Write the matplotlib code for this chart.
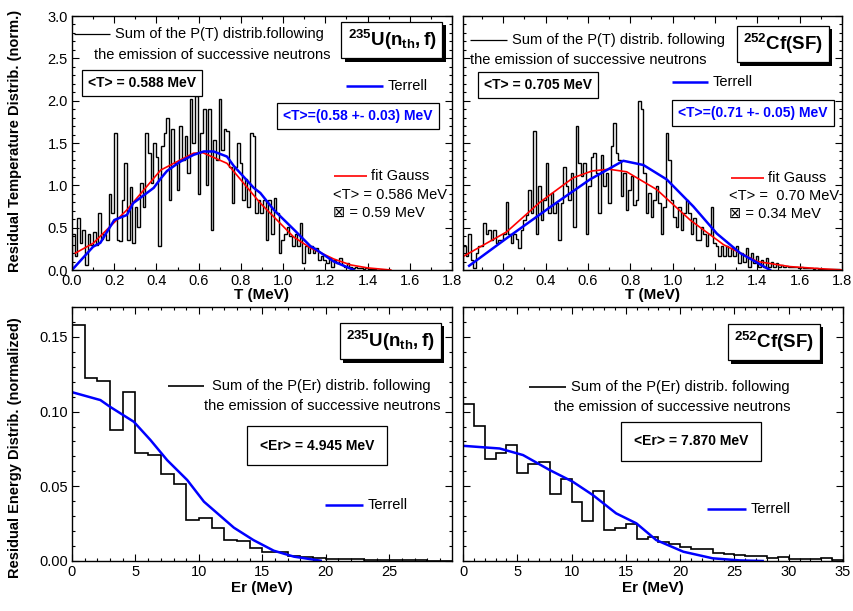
import numpy as np
import matplotlib
matplotlib.use('Agg')
import matplotlib.pyplot as plt
import matplotlib.patheffects as pe
from matplotlib.ticker import MultipleLocator, FormatStrFormatter

plt.rcParams['font.family'] = ['Liberation Sans', 'DejaVu Sans']
plt.rcParams['mathtext.fontset'] = 'custom'
plt.rcParams['mathtext.rm'] = 'Liberation Sans'
plt.rcParams['mathtext.bf'] = 'Liberation Sans:bold'
plt.rcParams['mathtext.it'] = 'Liberation Sans:italic'

###############################################################################
# Data
# U-235 residual temperature histogram (P(T) summed over successive neutrons)
u_T_start, u_T_width = 0.0, 0.0124
u_T_hist = [0.43, 0.16, 0.61, 0.32, 0.47, 0.06, 0.43, 0.30, 0.45, 0.30,
            0.67, 0.37, 0.43, 0.35, 0.90, 0.67, 1.62, 0.36, 0.34, 0.83,
            1.26, 0.35, 0.98, 0.32, 0.75, 0.51, 1.03, 0.75, 1.62, 1.38,
            1.03, 1.50, 1.34, 0.28, 1.46, 1.62, 1.80, 0.83, 1.66, 1.26,
            0.95, 1.70, 1.30, 1.58, 1.15, 2.02, 1.50, 2.05, 0.90, 1.62,
            1.90, 1.00, 1.90, 0.47, 1.54, 1.30, 2.02, 1.42, 1.66, 1.64,
            1.22, 0.79, 1.22, 1.50, 1.26, 0.83, 1.07, 0.75, 1.62, 1.58,
            0.67, 0.83, 0.67, 0.83, 0.36, 0.83, 0.43, 0.85, 0.67, 0.20,
            0.35, 0.43, 0.51, 0.40, 0.28, 0.43, 0.28, 0.55, 0.08, 0.28,
            0.20, 0.28, 0.20, 0.26, 0.12, 0.16, 0.12, 0.08, 0.14, 0.04,
            0.12, 0.08, 0.14, 0.06, 0.04, 0.08, 0.04, 0.02, 0.03, 0.02,
            0.02, 0.01, 0.02, 0.01, 0.01, 0.01, 0.005, 0.005, 0.005, 0.0, 0.0]
u_terrell_T = [0.0, 0.10, 0.134, 0.20, 0.26, 0.29, 0.387, 0.42, 0.45, 0.513,
               0.576, 0.624, 0.671, 0.734, 0.766, 0.861, 0.892, 0.956, 1.05,
               1.13, 1.145, 1.24, 1.335]
u_terrell_P = [0.0, 0.275, 0.32, 0.59, 0.65, 0.79, 0.97, 1.08, 1.17, 1.28,
               1.36, 1.40, 1.40, 1.34, 1.23, 0.97, 0.91, 0.71, 0.48,
               0.28, 0.26, 0.10, 0.0]
u_gauss_T = [0.016, 0.10, 0.26, 0.42, 0.576, 0.62, 0.734, 0.892, 1.05, 1.13,
             1.24, 1.32, 1.40, 1.51]
u_gauss_P = [0.20, 0.315, 0.71, 1.18, 1.38, 1.385, 1.26, 0.79, 0.39, 0.26,
             0.13, 0.06, 0.025, 0.0]

# Cf-252 residual temperature histogram
cf_T_start, cf_T_width = 0.011, 0.0118
cf_T_hist = [0.28, 0.16, 0.43, 0.12, 0.02, 0.20, 0.28, 0.28, 0.55, 0.43,
             0.47, 0.36, 0.47, 0.32, 0.36, 0.36, 0.43, 0.80, 0.43, 0.32,
             0.43, 0.37, 0.26, 0.47, 0.59, 0.65, 0.95, 0.67, 1.64, 0.42,
             0.99, 0.59, 0.83, 1.26, 0.67, 0.91, 0.67, 0.79, 0.36, 0.79,
             1.22, 0.99, 0.83, 1.15, 0.51, 1.70, 1.26, 1.11, 1.26, 0.43,
             0.99, 1.34, 1.38, 1.15, 0.67, 1.36, 0.99, 1.15, 0.79, 1.46,
             1.74, 1.38, 1.30, 0.87, 1.15, 0.71, 0.95, 1.11, 0.77, 0.83,
             2.00, 1.90, 1.15, 0.67, 0.91, 0.63, 0.83, 0.99, 0.79, 0.43,
             0.75, 1.62, 1.30, 0.83, 0.63, 0.51, 0.75, 0.47, 0.67, 0.83,
             0.67, 0.43, 0.61, 0.36, 0.36, 0.51, 0.43, 0.28, 0.43, 0.75,
             0.32, 0.28, 0.16, 0.28, 0.16, 0.28, 0.16, 0.26, 0.16, 0.28,
             0.08, 0.20, 0.10, 0.26, 0.04, 0.20, 0.08, 0.16, 0.04, 0.12,
             0.04, 0.14, 0.04, 0.10, 0.04, 0.08, 0.04, 0.06, 0.04, 0.05,
             0.04, 0.03, 0.04, 0.03, 0.02, 0.03, 0.02, 0.02, 0.02, 0.02,
             0.015, 0.02, 0.015, 0.01, 0.015, 0.01, 0.01, 0.01, 0.01, 0.01, 0.01]
cf_terrell_T = [0.039, 0.216, 0.437, 0.61, 0.767, 0.862, 0.972, 1.098, 1.209,
                1.319, 1.46]
cf_terrell_P = [0.05, 0.375, 0.77, 1.07, 1.29, 1.24, 1.07, 0.75, 0.43, 0.20, 0.0]
cf_gauss_T = [0.011, 0.216, 0.373, 0.531, 0.62, 0.70, 0.783, 0.925, 1.083, 1.24,
              1.40, 1.555, 1.70, 1.80]
cf_gauss_P = [0.16, 0.45, 0.80, 1.09, 1.17, 1.19, 1.16, 0.95, 0.59, 0.30, 0.10,
              0.04, 0.015, 0.0]

# Residual energy histograms, 1 MeV bins
u_Er_hist = [0.158, 0.1226, 0.1206, 0.0876, 0.1133, 0.072, 0.0707, 0.0582,
             0.0513, 0.0274, 0.029, 0.0223, 0.014, 0.0134, 0.0089, 0.0062,
             0.0058, 0.0033, 0.0025, 0.0018, 0.0016, 0.0013, 0.0011, 0.0009,
             0.0007, 0.0007, 0.0004, 0.0004, 0.0002, 0.0002]
u_terrell_Er = [0.0, 2.24, 3.0, 4.87, 6.18, 7.5, 9.08, 10.4, 12.76, 14.3,
                15.9, 17.5, 19.6]
u_terrell_PEr = [0.113, 0.1077, 0.1032, 0.0932, 0.081, 0.0675, 0.0542,
                 0.0397, 0.0223, 0.014, 0.0069, 0.0029, 0.0002]
cf_Er_hist = [0.105, 0.0903, 0.068, 0.072, 0.0776, 0.0586, 0.0649, 0.0664,
              0.0446, 0.0548, 0.0392, 0.027, 0.047, 0.0207, 0.0223, 0.0247,
              0.0145, 0.0163, 0.0125, 0.0111, 0.0096, 0.0078, 0.0078, 0.0051,
              0.0047, 0.0042, 0.0033, 0.0033, 0.0018, 0.0029, 0.0011, 0.0011,
              0.0011, 0.0018, 0.0007]
cf_terrell_Er = [0.0, 3.38, 5.53, 7.98, 10.1, 11.97, 14.1, 15.97, 17.8, 20.3,
                 23.0, 25.5, 27.6]
cf_terrell_PEr = [0.0771, 0.0753, 0.0709, 0.0609, 0.0531, 0.0441, 0.0319,
                  0.0252, 0.014, 0.0062, 0.0018, 0.0004, 0.0]

###############################################################################
# Helpers
def style_axes(ax, xmaj, xmin, ymaj, ymin, xfmt, yfmt):
    ax.xaxis.set_major_locator(MultipleLocator(xmaj))
    ax.xaxis.set_minor_locator(MultipleLocator(xmin))
    ax.yaxis.set_major_locator(MultipleLocator(ymaj))
    ax.yaxis.set_minor_locator(MultipleLocator(ymin))
    ax.xaxis.set_major_formatter(FormatStrFormatter(xfmt))
    ax.yaxis.set_major_formatter(FormatStrFormatter(yfmt))
    ax.tick_params(which='both', direction='in', top=True, right=True,
                   labelsize=10.5, width=0.8, pad=3)
    ax.tick_params(which='major', length=5)
    ax.tick_params(which='minor', length=2.5)
    for s in ax.spines.values():
        s.set_linewidth(1.0)


def box(ax, x, y, s, size, color='k', shadow=False, pad=0.45):
    t = ax.text(x, y, s, transform=ax.transAxes, ha='center', va='center',
                fontsize=size, fontweight='bold', color=color, zorder=6,
                bbox=dict(boxstyle='square,pad=%s' % pad, fc='white', ec='k', lw=0.9))
    if shadow:
        t.get_bbox_patch().set_path_effects(
            [pe.SimplePatchShadow(offset=(2.5, -2.5), shadow_rgbFace='k', alpha=1),
             pe.Normal()])
    return t


def legline(ax, x0, x1, y, color, lw, label, dx=0.012):
    ax.plot([x0, x1], [y, y], color=color, lw=lw, transform=ax.transAxes,
            solid_capstyle='butt')
    ax.text(x1 + dx, y, label, transform=ax.transAxes, ha='left', va='center',
            fontsize=10.5)


def edges(start, width, n):
    return start + width * np.arange(n + 1)

###############################################################################
fig = plt.figure(figsize=(8.54, 6.11), dpi=100)
W, H = 854.0, 611.0
ax_tl = fig.add_axes([72 / W, 1 - 270 / H, 380 / W, 254 / H])
ax_tr = fig.add_axes([463 / W, 1 - 270 / H, 379 / W, 254 / H])
ax_bl = fig.add_axes([72 / W, 1 - 561 / H, 380 / W, 254 / H])
ax_br = fig.add_axes([463 / W, 1 - 561 / H, 380 / W, 254 / H])

iso_u = r'$\mathbf{^{235}U(n_{th},f)}$'
iso_cf = r'$\mathbf{^{252}Cf(SF)}$'

# Top left: U-235 temperature
ax = ax_tl
ax.stairs(u_T_hist, edges(u_T_start, u_T_width, len(u_T_hist)), color='k', lw=1.0)
ax.plot(u_gauss_T, u_gauss_P, color='#ff0000', lw=1.2)
ax.plot(u_terrell_T, u_terrell_P, color='#0000ff', lw=1.8)
ax.set_xlim(0, 1.8)
ax.set_ylim(0, 3.0)
style_axes(ax, 0.2, 0.1, 0.5, 0.1, '%.1f', '%.1f')
ax.set_xlabel('T (MeV)', fontsize=11, fontweight='bold', labelpad=0)
legline(ax, 0.005, 0.10, 0.929, 'k', 0.9, 'Sum of the P(T) distrib.following')
ax.text(0.058, 0.846, 'the emission of successive neutrons', transform=ax.transAxes,
        ha='left', va='center', fontsize=10.5)
box(ax, 0.842, 0.905, iso_u, 13.5, shadow=True, pad=0.33)
box(ax, 0.184, 0.736, '<T> = 0.588 MeV', 10)
legline(ax, 0.721, 0.818, 0.724, '#0000ff', 1.8, 'Terrell')
box(ax, 0.753, 0.606, '<T>=(0.58 +- 0.03) MeV', 10, color='#0000ff')
legline(ax, 0.689, 0.776, 0.370, '#ff0000', 1.2, 'fit Gauss')
ax.text(0.687, 0.295, '<T> = 0.586 MeV', transform=ax.transAxes, ha='left',
        va='center', fontsize=10.5)
ax.text(0.687, 0.224, '\u22a0 = 0.59 MeV', transform=ax.transAxes, ha='left',
        va='center', fontsize=10.5)

# Top right: Cf-252 temperature
ax = ax_tr
ax.stairs(cf_T_hist, edges(cf_T_start, cf_T_width, len(cf_T_hist)), color='k', lw=1.0)
ax.plot(cf_gauss_T, cf_gauss_P, color='#ff0000', lw=1.2)
ax.plot(cf_terrell_T, cf_terrell_P, color='#0000ff', lw=1.8)
ax.set_xlim(0.01, 1.8)
ax.set_ylim(0, 3.0)
style_axes(ax, 0.2, 0.1, 0.5, 0.1, '%.1f', '%.1f')
ax.set_xticks(np.arange(0.2, 1.81, 0.2))
ax.tick_params(labelleft=False)
ax.set_xlabel('T (MeV)', fontsize=11, fontweight='bold', labelpad=0)
legline(ax, 0.018, 0.116, 0.906, 'k', 0.9, 'Sum of the P(T) distrib. following')
ax.text(0.018, 0.827, 'the emission of successive neutrons', transform=ax.transAxes,
        ha='left', va='center', fontsize=10.5)
box(ax, 0.844, 0.890, iso_cf, 13.5, shadow=True, pad=0.33)
box(ax, 0.198, 0.728, '<T> = 0.705 MeV', 10)
legline(ax, 0.551, 0.646, 0.740, '#0000ff', 1.8, 'Terrell')
box(ax, 0.765, 0.618, '<T>=(0.71 +- 0.05) MeV', 10, color='#0000ff')
legline(ax, 0.707, 0.794, 0.362, '#ff0000', 1.2, 'fit Gauss')
ax.text(0.702, 0.291, '<T> =  0.70 MeV', transform=ax.transAxes, ha='left',
        va='center', fontsize=10.5)
ax.text(0.702, 0.220, '\u22a0 = 0.34 MeV', transform=ax.transAxes, ha='left',
        va='center', fontsize=10.5)

# Bottom left: U-235 residual energy
ax = ax_bl
ax.stairs(u_Er_hist, np.arange(len(u_Er_hist) + 1), color='k', lw=1.2)
ax.plot(u_terrell_Er, u_terrell_PEr, color='#0000ff', lw=1.8)
ax.set_xlim(0, 29.95)
ax.set_ylim(0, 0.17)
style_axes(ax, 5, 1, 0.05, 0.01, '%d', '%.2f')
ax.set_xlabel('Er (MeV)', fontsize=11, fontweight='bold', labelpad=1)
box(ax, 0.837, 0.866, iso_u, 13.5, shadow=True, pad=0.33)
legline(ax, 0.253, 0.347, 0.689, 'k', 1.2, 'Sum of the P(Er) distrib. following', dx=0.021)
ax.text(0.347, 0.610, 'the emission of successive neutrons', transform=ax.transAxes,
        ha='left', va='center', fontsize=10.5)
box(ax, 0.645, 0.453, '<Er> = 4.945 MeV', 10, pad=0.9)
legline(ax, 0.666, 0.766, 0.220, '#0000ff', 1.8, 'Terrell')

# Bottom right: Cf-252 residual energy
ax = ax_br
ax.stairs(cf_Er_hist, np.arange(len(cf_Er_hist) + 1), color='k', lw=1.2)
ax.plot(cf_terrell_Er, cf_terrell_PEr, color='#0000ff', lw=1.8)
ax.set_xlim(0, 35)
ax.set_ylim(0, 0.17)
style_axes(ax, 5, 1, 0.05, 0.01, '%d', '%.2f')
ax.tick_params(labelleft=False)
ax.set_xlabel('Er (MeV)', fontsize=11, fontweight='bold', labelpad=1)
box(ax, 0.818, 0.862, iso_cf, 13.5, shadow=True, pad=0.33)
legline(ax, 0.174, 0.271, 0.685, 'k', 1.2, 'Sum of the P(Er) distrib. following')
ax.text(0.239, 0.606, 'the emission of successive neutrons', transform=ax.transAxes,
        ha='left', va='center', fontsize=10.5)
box(ax, 0.600, 0.472, '<Er> = 7.870 MeV', 10, pad=0.9)
legline(ax, 0.642, 0.745, 0.205, '#0000ff', 1.8, 'Terrell')

# Shared y labels
fig.text(15 / W, 1 - 141 / H, 'Residual Temperature Distrib. (norm.)', rotation=90,
         ha='center', va='center', fontsize=10.5, fontweight='bold')
fig.text(15 / W, 1 - 448 / H, 'Residual Energy Distrib. (normalized)', rotation=90,
         ha='center', va='center', fontsize=10.5, fontweight='bold')

fig.savefig('out.png', dpi=100)
